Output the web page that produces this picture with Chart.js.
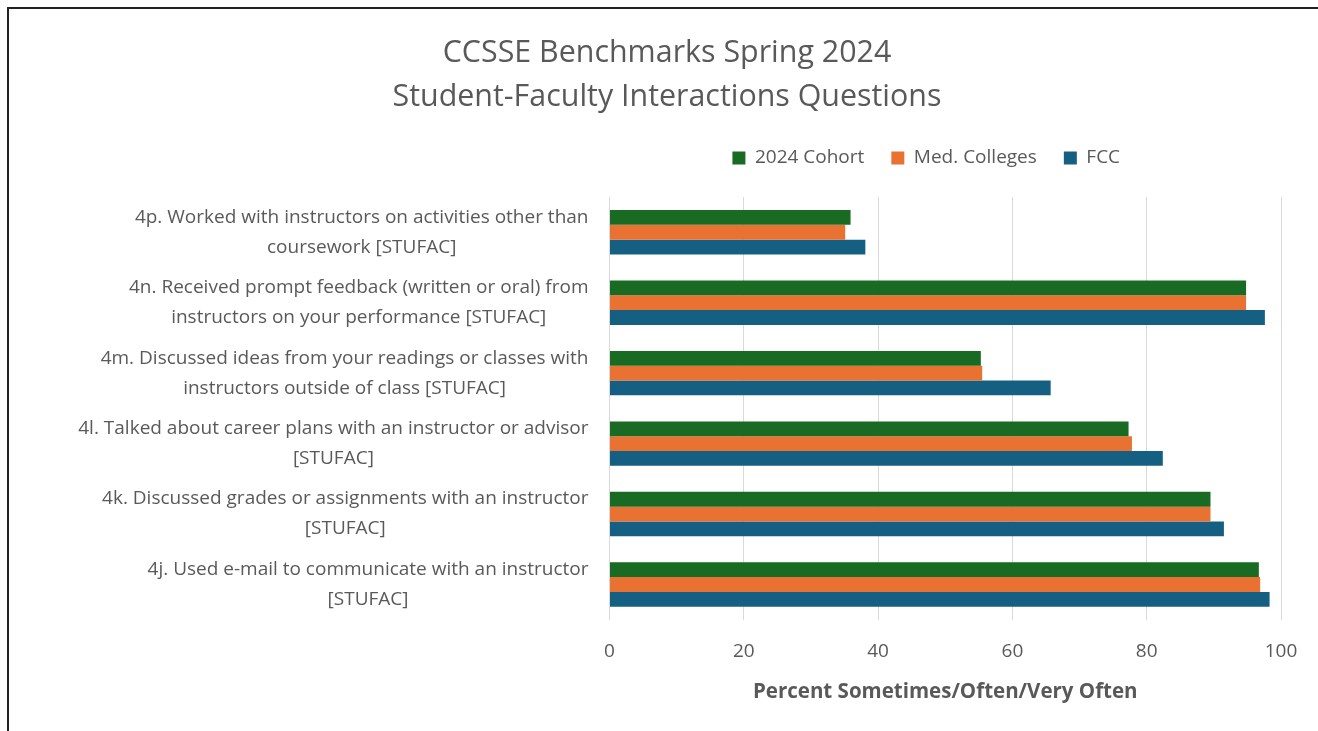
<!DOCTYPE html>
<html>
<head>
<meta charset="utf-8">
<script src="https://cdn.jsdelivr.net/npm/chart.js@4.4.1/dist/chart.umd.min.js"></script>
<style>
  html, body { margin: 0; padding: 0; background: #fff; overflow: hidden; }
  #frame { position: absolute; left: 7px; top: 7px; width: 1400px; height: 800px; border: 2px solid #222; box-sizing: border-box; }
  #wrap { position: absolute; left: 0; top: 0; width: 1318px; height: 731px; }
</style>
</head>
<body>
<div id="frame"></div>
<div id="wrap"><canvas id="chart"></canvas></div>
<script>
const categories = [
  ['4p. Worked with instructors on activities other than', 'coursework [STUFAC]'],
  ['4n. Received prompt feedback (written or oral) from', 'instructors on your performance [STUFAC]'],
  ['4m. Discussed ideas from your readings or classes with', 'instructors outside of class [STUFAC]'],
  ['4l. Talked about career plans with an instructor or advisor', '[STUFAC]'],
  ['4k. Discussed grades or assignments with an instructor', '[STUFAC]'],
  ['4j. Used e-mail to communicate with an instructor', '[STUFAC]']
];
const cohort2024 = [35.9, 94.8, 55.3, 77.3, 89.5, 96.7];
const medColleges = [35.1, 94.8, 55.5, 77.8, 89.5, 96.9];
const fcc = [38.1, 97.6, 65.7, 82.4, 91.5, 98.3];
const xTicks = [0, 20, 40, 60, 80, 100];

const grey = '#595959';
const fontFamily = '"Open Sans", Roboto, sans-serif';

// draw the category labels with each label's lines centred on each other
const centredLabels = {
  id: 'centredLabels',
  afterDraw(chart) {
    const ctx = chart.ctx;
    const yScale = chart.scales.y;
    const right = chart.chartArea.left - 21;
    ctx.save();
    ctx.font = '19px ' + fontFamily;
    ctx.fillStyle = grey;
    ctx.textAlign = 'center';
    ctx.textBaseline = 'middle';
    categories.forEach((lines, i) => {
      const y = yScale.getPixelForTick(i);
      const widest = Math.max(...lines.map(l => ctx.measureText(l).width));
      const cx = right - widest / 2;
      lines.forEach((line, j) => {
        ctx.fillText(line, cx, y + (j - (lines.length - 1) / 2) * 30);
      });
    });
    ctx.restore();
  }
};

// legend sits a bit left of the plot centre and has more room below it
const legendTweak = {
  id: 'legendTweak',
  beforeLayout(chart) {
    const legend = chart.legend;
    if (legend && !legend._patched) {
      const fit = legend.fit;
      legend.fit = function () {
        fit.call(this);
        this.height += 19.5;
      };
      legend._patched = true;
    }
  },
  afterLayout(chart) {
    chart.legend.left -= 38;
  }
};

new Chart(document.getElementById('chart'), {
  type: 'bar',
  data: {
    labels: categories,
    datasets: [
      { label: '2024 Cohort', data: cohort2024, backgroundColor: '#196B24' },
      { label: 'Med. Colleges', data: medColleges, backgroundColor: '#E97132' },
      { label: 'FCC', data: fcc, backgroundColor: '#156082' }
    ]
  },
  options: {
    indexAxis: 'y',
    responsive: true,
    maintainAspectRatio: false,
    animation: false,
    layout: { padding: { left: 53, right: 37, top: 0, bottom: 23 } },
    datasets: {
      bar: { barPercentage: 1, categoryPercentage: 0.63 }
    },
    scales: {
      x: {
        min: 0,
        max: 100,
        afterBuildTicks: s => { s.ticks = xTicks.map(v => ({ value: v })); },
        grid: { color: '#d9d9d9', drawTicks: false },
        border: { display: false },
        ticks: { color: grey, padding: 20, font: { family: fontFamily, size: 19 } },
        title: {
          display: true,
          text: 'Percent Sometimes/Often/Very Often',
          color: grey,
          padding: { top: 0, bottom: 7 },
          font: { family: fontFamily, size: 20.5, weight: 'bold', lineHeight: 0.9 }
        }
      },
      y: {
        afterFit: s => { s.width = 556.5; },
        grid: { display: false },
        border: { display: false },
        ticks: { display: false }
      }
    },
    plugins: {
      title: {
        display: true,
        text: ['CCSSE Benchmarks Spring 2024', 'Student-Faculty Interactions Questions'],
        color: grey,
        padding: { top: 31, bottom: 2.5 },
        font: { family: fontFamily, size: 30.4, weight: 'normal', lineHeight: 44 / 30.4 }
      },
      legend: {
        fullSize: false,
        labels: {
          color: grey,
          boxWidth: 13,
          boxHeight: 13,
          padding: 27,
          font: { family: fontFamily, size: 19 }
        }
      },
      tooltip: { enabled: false }
    }
  },
  plugins: [centredLabels, legendTweak]
});
</script>
</body>
</html>
